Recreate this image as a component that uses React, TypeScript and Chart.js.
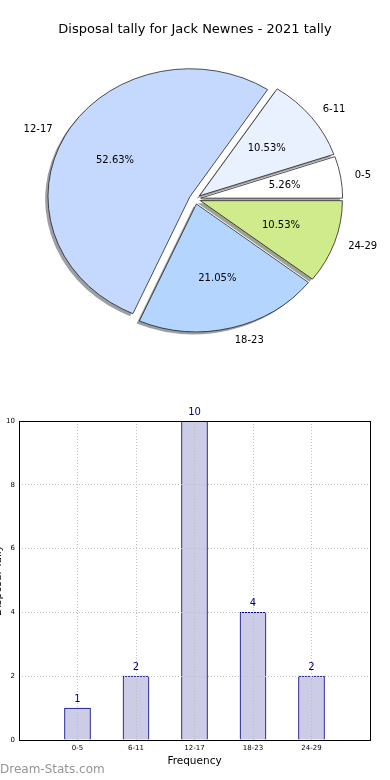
import React, { useEffect, useRef } from 'react';
import { Chart, registerables } from 'chart.js';

Chart.register(...registerables);

const TITLE = 'Disposal tally for Jack Newnes - 2021 tally';
const CATEGORIES = ['0-5', '6-11', '12-17', '18-23', '24-29'];
const COUNTS = [1, 2, 10, 4, 2];
const PIE_COLORS = ['#ffffff', '#eaf1fe', '#c5d9fe', '#b3d5fe', '#cfeb8b'];
const Y_TICKS = [0, 2, 4, 6, 8, 10];
const X_TITLE = 'Frequency';
const Y_TITLE = 'Disposal Tally';
const WATERMARK = 'Dream-Stats.com';

const FONT = '"DejaVu Sans", sans-serif';
const PIE_R = 142;
const SQUASH = 0.9;
const EXPLODE = 5.7;

function shadowOf(hex: string): string {
  const n = parseInt(hex.slice(1), 16);
  const r = Math.round(((n >> 16) & 255) * 0.3);
  const g = Math.round(((n >> 8) & 255) * 0.3);
  const b = Math.round((n & 255) * 0.3);
  return `rgba(${r},${g},${b},0.5)`;
}

const piePlugin = {
  id: 'pieCustom',
  beforeDatasetDraw(chart: any, args: any) {
    const meta = chart.getDatasetMeta(args.index);
    const ctx = chart.ctx as CanvasRenderingContext2D;
    meta.data.forEach((el: any, i: number) => {
      const m = (el.startAngle + el.endAngle) / 2;
      const sh = Object.create(el);
      sh.options = { ...el.options, borderWidth: 0, backgroundColor: shadowOf(PIE_COLORS[i]) };
      ctx.save();
      ctx.translate(-2.8, 2.6);
      ctx.translate(el.x, el.y);
      ctx.scale(1, -SQUASH);
      ctx.translate(-el.x, -el.y);
      ctx.translate(EXPLODE * Math.cos(m), EXPLODE * Math.sin(m));
      sh.draw(ctx);
      ctx.restore();
      ctx.save();
      ctx.translate(el.x, el.y);
      ctx.scale(1, -SQUASH);
      ctx.translate(-el.x, -el.y);
      ctx.translate(EXPLODE * Math.cos(m), EXPLODE * Math.sin(m));
      el.draw(ctx);
      ctx.restore();
    });
    return false;
  },
  afterDraw(chart: any) {
    const ctx = chart.ctx as CanvasRenderingContext2D;
    const meta = chart.getDatasetMeta(0);
    const total = COUNTS.reduce((a, b) => a + b, 0);
    ctx.save();
    ctx.fillStyle = '#000';
    ctx.font = `13px ${FONT}`;
    ctx.textAlign = 'center';
    ctx.textBaseline = 'middle';
    ctx.fillText(TITLE, chart.width / 2, 30);
    ctx.font = `10px ${FONT}`;
    meta.data.forEach((el: any, i: number) => {
      const m = (el.startAngle + el.endAngle) / 2;
      const c = Math.cos(m);
      const s = Math.sin(m);
      const ex = el.x + EXPLODE * c;
      const ey = el.y - SQUASH * EXPLODE * s;
      const lx = ex + 1.1 * PIE_R * c;
      const ly = ey - SQUASH * 1.1 * PIE_R * s;
      ctx.textAlign = c > 0 ? 'left' : 'right';
      ctx.textBaseline = 'middle';
      ctx.fillText(CATEGORIES[i], lx, ly);
      const px = ex + 0.6 * PIE_R * c;
      const py = ey - SQUASH * 0.6 * PIE_R * s;
      ctx.textAlign = 'center';
      ctx.fillText(((COUNTS[i] / total) * 100).toFixed(2) + '%', px, py);
    });
    ctx.restore();
  },
};

const barPlugin = {
  id: 'barCustom',
  afterDraw(chart: any) {
    const ctx = chart.ctx as CanvasRenderingContext2D;
    const a = chart.chartArea;
    ctx.save();
    ctx.strokeStyle = '#000';
    ctx.lineWidth = 1;
    ctx.strokeRect(Math.round(a.left) + 0.5, Math.round(a.top) + 0.5, Math.round(a.right - a.left), Math.round(a.bottom - a.top));
    const meta = chart.getDatasetMeta(0);
    ctx.fillStyle = '#000080';
    ctx.font = `10px ${FONT}`;
    ctx.textAlign = 'center';
    ctx.textBaseline = 'middle';
    meta.data.forEach((el: any, i: number) => {
      ctx.fillText(String(COUNTS[i]), el.x, el.y - 9);
    });
    ctx.fillStyle = '#000';
    ctx.font = `10.5px ${FONT}`;
    ctx.fillText(X_TITLE, (a.left + a.right) / 2, 361);
    ctx.save();
    ctx.translate(1, (a.top + a.bottom) / 2);
    ctx.rotate(-Math.PI / 2);
    ctx.textAlign = 'center';
    ctx.textBaseline = 'alphabetic';
    ctx.fillText(Y_TITLE, 0, 0);
    ctx.restore();
    ctx.fillStyle = '#959595';
    ctx.font = `12px ${FONT}`;
    ctx.textAlign = 'left';
    ctx.textBaseline = 'middle';
    ctx.fillText(WATERMARK, 0, 370);
    ctx.restore();
  },
};

export default function App() {
  const pieRef = useRef<HTMLCanvasElement>(null);
  const barRef = useRef<HTMLCanvasElement>(null);

  useEffect(() => {
    const pie = new Chart(pieRef.current as HTMLCanvasElement, {
      type: 'pie',
      data: {
        labels: CATEGORIES,
        datasets: [
          {
            data: COUNTS,
            backgroundColor: PIE_COLORS,
            borderColor: '#1a1a1a',
            borderWidth: 0.8,
          },
        ],
      },
      options: {
        responsive: false,
        animation: false,
        rotation: 90,
        radius: PIE_R,
        layout: { padding: 0 },
        plugins: {
          legend: { display: false },
          tooltip: { enabled: false },
          title: { display: false },
        },
      } as any,
      plugins: [piePlugin],
    });

    const bar = new Chart(barRef.current as HTMLCanvasElement, {
      type: 'bar',
      data: {
        datasets: [
          {
            data: COUNTS.map((v, i) => ({ x: i + 1, y: v })),
            backgroundColor: '#ccccE6',
            borderColor: '#000080',
            borderWidth: 1,
            barThickness: 26,
          },
        ],
      },
      options: {
        responsive: false,
        animation: false,
        layout: { padding: { top: 21, right: 20, left: 0, bottom: 0 } },
        plugins: {
          legend: { display: false },
          tooltip: { enabled: false },
          title: { display: false },
        },
        scales: {
          x: {
            type: 'linear',
            min: 0,
            max: CATEGORIES.length + 1,
            offset: false,
            afterBuildTicks: (s: any) => {
              s.ticks = CATEGORIES.map((_, i) => ({ value: i + 1 }));
            },
            afterFit: (s: any) => {
              s.height = 40;
            },
            ticks: {
              callback: (v: any) => CATEGORIES[Number(v) - 1] ?? '',
              font: { family: FONT, size: 7 },
              color: '#000',
              autoSkip: false,
              maxRotation: 0,
              padding: 1,
            },
            grid: { offset: false, color: '#c0c0c0', z: 1, tickLength: 3, tickColor: 'rgba(0,0,0,0)' },
            border: { display: false, dash: [1, 2] },
          },
          y: {
            min: 0,
            max: 10,
            afterBuildTicks: (s: any) => {
              s.ticks = Y_TICKS.map((v) => ({ value: v }));
            },
            afterFit: (s: any) => {
              s.width = 19;
            },
            ticks: {
              font: { family: FONT, size: 7 },
              color: '#000',
              padding: 1,
            },
            grid: { color: '#c0c0c0', z: 1, tickLength: 3, tickColor: 'rgba(0,0,0,0)' },
            border: { display: false, dash: [1, 2] },
          },
        },
      } as any,
      plugins: [barPlugin],
    });

    return () => {
      pie.destroy();
      bar.destroy();
    };
  }, []);

  return (
    <div style={{ position: 'absolute', left: 0, top: 0, width: 390, height: 780, background: '#fff' }}>
      <canvas ref={pieRef} width={390} height={398} style={{ position: 'absolute', left: 0, top: 0 }} />
      <canvas ref={barRef} width={390} height={380} style={{ position: 'absolute', left: 0, top: 400 }} />
    </div>
  );
}
